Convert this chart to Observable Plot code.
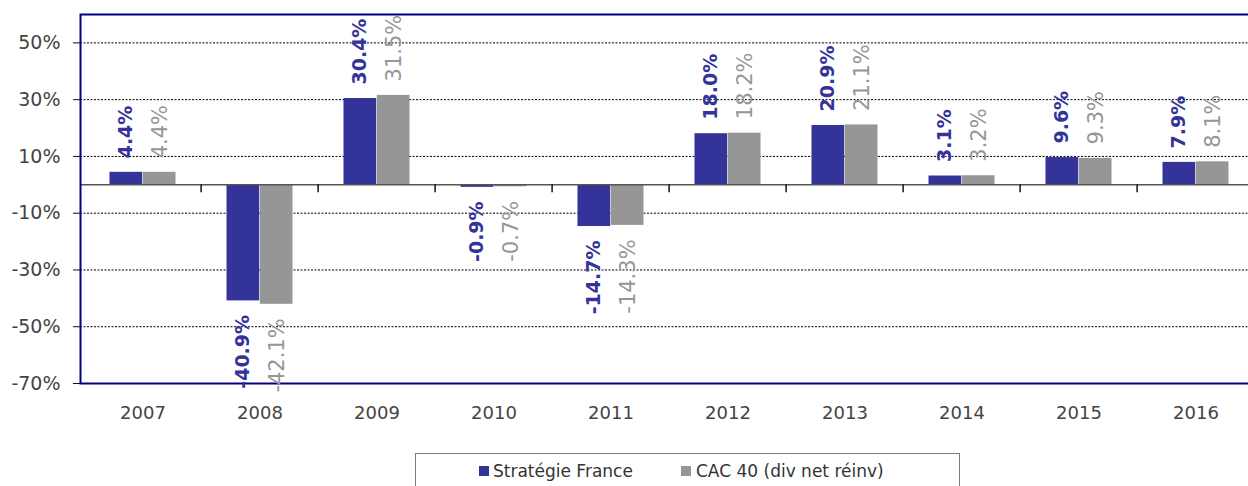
<!DOCTYPE html>
<html>
<head>
<meta charset="utf-8">
<script src="https://cdn.jsdelivr.net/npm/d3@7"></script>
<script src="https://cdn.jsdelivr.net/npm/@observablehq/plot@0.6"></script>
<style>
  body { margin: 0; background: #fff; font-family: "DejaVu Sans", Verdana, sans-serif; }
  #chart svg { display: block; overflow: hidden; }
  .legend { position: relative; margin-left: 415px; margin-top: 13px; width: 545px; height: 40px; border: 1px solid #7a7a7a; box-sizing: border-box; }
  .legend .sw { position: absolute; top: 12px; width: 10px; height: 10px; }
  .legend .lb { position: absolute; top: 7px; font-size: 17px; color: #333; white-space: nowrap; }
</style>
</head>
<body>
<div id="chart"></div>
<div class="legend">
  <span class="sw" style="left:63px;background:#333399"></span><span class="lb" style="left:77px">Stratégie France</span>
  <span class="sw" style="left:265px;background:#969696"></span><span class="lb" style="left:280px">CAC 40 (div net réinv)</span>
</div>
<script>
const years = ["2007","2008","2009","2010","2011","2012","2013","2014","2015","2016"];
const strategie = [4.4, -40.9, 30.4, -0.9, -14.7, 18.0, 20.9, 3.1, 9.6, 7.9];
const cac40 = [4.4, -42.1, 31.5, -0.7, -14.3, 18.2, 21.1, 3.2, 9.3, 8.1];
const yTicks = [-70, -50, -30, -10, 10, 30, 50];
const gridTicks = [-50, -30, -10, 10, 30, 50];

const blue = "#333399", gray = "#969696";
const sData = years.map((y, i) => ({year: y, v: strategie[i]}));
const cData = years.map((y, i) => ({year: y, v: cac40[i]}));
const fmt = d => d.v.toFixed(1) + "%";
const W = 1248, ML = 80, MR = -10;
const bw = (W - MR - ML) / years.length;

const labelMarks = (data, color, dx, weight, size) => [
  Plot.text(data.filter(d => d.v >= 0), {x: "year", y: "v", text: fmt, rotate: -90, textAnchor: "start", dx, dy: -14, fill: color, fontWeight: weight, fontSize: size}),
  Plot.text(data.filter(d => d.v < 0), {x: "year", y: "v", text: fmt, rotate: -90, textAnchor: "end", dx, dy: 14, fill: color, fontWeight: weight, fontSize: size})
];

const chart = Plot.plot({
  width: W,
  height: 440,
  marginLeft: ML,
  marginRight: MR,
  marginTop: 14,
  marginBottom: 57,
  style: {fontFamily: "DejaVu Sans, Verdana, sans-serif", background: "#fff"},
  x: {domain: years, padding: 0, label: null},
  y: {domain: [-70, 60], label: null},
  marks: [
    Plot.ruleY(gridTicks, {stroke: "#000", strokeWidth: 1, strokeDasharray: "2,1.5"}),
    Plot.barY(sData, {x: "year", y: "v", fill: blue, insetLeft: 25.5, insetRight: bw - 59}),
    Plot.barY(cData, {x: "year", y: "v", fill: gray, insetLeft: bw - 59, insetRight: 25.5}),
    Plot.ruleY([0], {stroke: "#555", strokeWidth: 1.5}),
    Plot.ruleX(years.slice(1), {x: d => d, dx: -bw / 2, y1: 0, y2: 0, insetBottom: -8, stroke: "#111", strokeWidth: 1.5}),
    Plot.axisX({tickSize: 0, tickPadding: 23, fontSize: 18, fill: "#444", label: null}),
    Plot.axisY({ticks: yTicks, tickSize: 7, tickPadding: 13, fontSize: 19, fill: "#444", stroke: "#111", tickFormat: d => d + "%", label: null}),
    Plot.frame({stroke: "#000080", strokeWidth: 2}),
    ...labelMarks(sData, blue, -17, "bold", 19),
    ...labelMarks(cData, gray, 17, "normal", 21)
  ]
});
document.getElementById("chart").append(chart);
</script>
</body>
</html>
